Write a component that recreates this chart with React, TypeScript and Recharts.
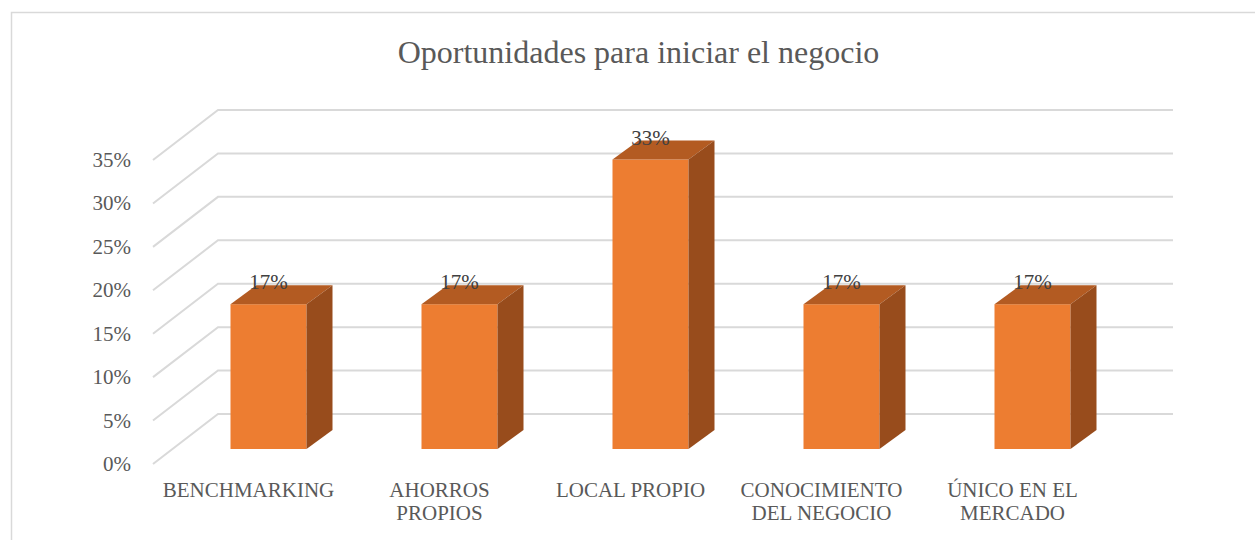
import { BarChart, Bar, XAxis, YAxis, CartesianGrid, LabelList } from "recharts"

const categories = [
  "BENCHMARKING",
  "AHORROS PROPIOS",
  "LOCAL PROPIO",
  "CONOCIMIENTO DEL NEGOCIO",
  "ÚNICO EN EL MERCADO",
]
const shares = [0.1667, 0.1667, 0.3333, 0.1667, 0.1667]
const yTicks = [0, 0.05, 0.1, 0.15, 0.2, 0.25, 0.3, 0.35]

const data = categories.map((nombre, i) => ({ nombre, valor: shares[i] }))

const FONT = '"Liberation Serif", "Times New Roman", serif'
const TEXT = "#595959"
const GRID = "#d9d9d9"

// perspective offsets of the 3D box (front plane -> plot plane -> back wall)
const FRONT_DX = -19.5
const FRONT_DY = 15
const BACK_DX = 45.5
const BACK_DY = -35
const BAR_DX = 26
const BAR_DY = 19

const pct = (v: number) => `${Math.round(v * 100)}%`

// greedy word wrap, like the category labels in the original
const wrap = (s: string, max = 12) => {
  const lines: string[] = []
  let cur = ""
  s.split(" ").forEach((w) => {
    const next = cur ? cur + " " + w : w
    if (next.length > max && cur) {
      lines.push(cur)
      cur = w
    } else cur = next
  })
  if (cur) lines.push(cur)
  return lines
}

const GridLine = (props: any) => {
  const { x1, y1, x2 } = props
  const pts = [
    [x1 + FRONT_DX, y1 + FRONT_DY],
    [x1 + BACK_DX, y1 + BACK_DY],
    [x2 + BACK_DX, y1 + BACK_DY],
  ]
    .map((p) => p.join(","))
    .join(" ")
  return <polyline key={props.key ?? y1} points={pts} fill="none" stroke={GRID} strokeWidth={2} />
}

const Caja = (props: any) => {
  const { x, y, width, height } = props
  if (!height) return null
  return (
    <g>
      <rect x={x} y={y} width={width} height={height} fill="#ED7D31" />
      <polygon
        points={`${x},${y} ${x + BAR_DX},${y - BAR_DY} ${x + width + BAR_DX},${y - BAR_DY} ${x + width},${y}`}
        fill="#B35B22"
      />
      <polygon
        points={`${x + width},${y} ${x + width + BAR_DX},${y - BAR_DY} ${x + width + BAR_DX},${y + height - BAR_DY} ${x + width},${y + height}`}
        fill="#984C1C"
      />
    </g>
  )
}

const YTick = ({ y, payload }: any) => (
  <text x={131} y={y + FRONT_DY} dy="0.33em" textAnchor="end" fontFamily={FONT} fontSize={21} fill={TEXT}>
    {pct(payload.value)}
  </text>
)

const XTick = ({ x, payload }: any) => {
  const lines = wrap(payload.value)
  return (
    <text x={x + FRONT_DX} y={497} textAnchor="middle" fontFamily={FONT} fontSize={21} fill={TEXT}>
      {lines.map((l, i) => (
        <tspan key={i} x={x + FRONT_DX} dy={i === 0 ? 0 : 23}>
          {l}
        </tspan>
      ))}
    </text>
  )
}

const Etiqueta = ({ x, y, width, value }: any) => (
  <text x={x + width / 2} y={y - 15} textAnchor="middle" fontFamily={FONT} fontSize={21} fill="#404040">
    {pct(value)}
  </text>
)

export default function App() {
  return (
    <div style={{ position: "absolute", left: 0, top: 0, width: 1255, height: 540, overflow: "hidden", background: "#fff" }}>
      <svg width={1255} height={540} style={{ position: "absolute", left: 0, top: 0 }}>
        <rect x={11.5} y={12.5} width={1300} height={600} fill="#fff" stroke={GRID} strokeWidth={1.5} />
        <text x={638.5} y={63} textAnchor="middle" fontFamily={FONT} fontSize={32} fill={TEXT}>
          Oportunidades para iniciar el negocio
        </text>
      </svg>
      <div style={{ position: "absolute", left: 0, top: 0 }}>
        <BarChart
          width={1255}
          height={540}
          data={data}
          margin={{ top: 145, right: 127.5, bottom: 31, left: 0 }}
        >
          <CartesianGrid vertical={false} horizontal={(p: any) => <GridLine {...p} />} />
          <XAxis dataKey="nombre" axisLine={false} tickLine={false} height={60} interval={0} tick={<XTick />} />
          <YAxis
            domain={[0, 0.35]}
            ticks={yTicks}
            width={172.5}
            axisLine={false}
            tickLine={false}
            tick={<YTick />}
          />
          <Bar dataKey="valor" barSize={76} shape={<Caja />} isAnimationActive={false}>
            <LabelList dataKey="valor" content={<Etiqueta />} />
          </Bar>
        </BarChart>
      </div>
    </div>
  )
}
